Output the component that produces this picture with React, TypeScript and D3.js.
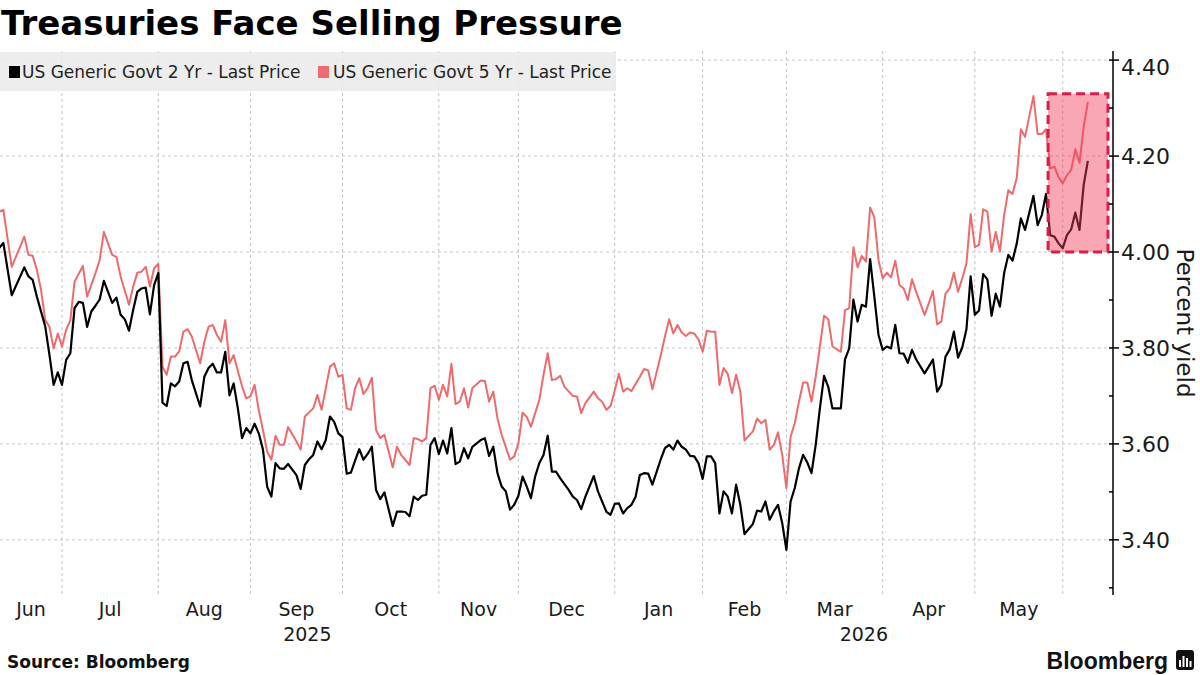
import React from 'react';
import * as d3 from 'd3';

// [trading day since 2025-06-02, yield %]
const twoYear: [number, number][] = [
  [6, 4.008], [7, 4.019], [9, 3.91], [12, 3.968], [13, 3.949], [14, 3.942], [15, 3.907], [17, 3.845],
  [18, 3.786], [19, 3.723], [20, 3.749], [21, 3.723], [22, 3.775], [23, 3.789], [24, 3.883], [25, 3.896],
  [26, 3.894], [27, 3.844], [28, 3.876], [29, 3.888], [30, 3.901], [31, 3.94], [33, 3.894], [34, 3.905],
  [35, 3.869], [36, 3.86], [37, 3.836], [38, 3.879], [39, 3.917], [40, 3.924], [41, 3.926], [42, 3.87],
  [43, 3.931], [44, 3.956], [45, 3.686], [46, 3.679], [47, 3.726], [48, 3.72], [49, 3.73], [50, 3.768],
  [51, 3.771], [52, 3.733], [54, 3.678], [55, 3.74], [56, 3.758], [57, 3.767], [58, 3.749], [59, 3.749],
  [60, 3.792], [61, 3.701], [62, 3.726], [63, 3.674], [64, 3.612], [65, 3.633], [66, 3.622], [67, 3.642],
  [68, 3.622], [69, 3.588], [70, 3.511], [71, 3.49], [72, 3.56], [73, 3.549], [74, 3.548], [75, 3.558],
  [77, 3.535], [78, 3.506], [79, 3.556], [80, 3.568], [81, 3.577], [82, 3.605], [83, 3.589], [84, 3.608],
  [85, 3.657], [86, 3.646], [87, 3.622], [88, 3.614], [89, 3.538], [90, 3.54], [91, 3.565], [92, 3.589],
  [93, 3.567], [94, 3.579], [95, 3.594], [96, 3.504], [97, 3.485], [98, 3.499], [100, 3.429], [101, 3.459],
  [102, 3.459], [103, 3.458], [104, 3.449], [105, 3.49], [106, 3.483], [107, 3.492], [108, 3.494], [109, 3.598],
  [110, 3.612], [111, 3.579], [112, 3.607], [113, 3.58], [114, 3.633], [115, 3.558], [116, 3.563], [117, 3.591],
  [118, 3.57], [119, 3.594], [121, 3.608], [122, 3.612], [123, 3.575], [124, 3.594], [125, 3.539], [126, 3.511],
  [127, 3.501], [128, 3.463], [129, 3.473], [130, 3.492], [131, 3.532], [132, 3.511], [133, 3.487], [134, 3.532],
  [135, 3.56], [136, 3.577], [137, 3.617], [138, 3.542], [139, 3.542], [140, 3.528], [142, 3.504], [143, 3.49],
  [144, 3.483], [145, 3.464], [146, 3.49], [148, 3.533], [149, 3.501], [150, 3.48], [151, 3.459], [152, 3.452],
  [153, 3.475], [154, 3.476], [155, 3.455], [156, 3.466], [157, 3.473], [158, 3.49], [159, 3.535], [160, 3.539],
  [161, 3.538], [162, 3.515], [164, 3.568], [165, 3.591], [166, 3.598], [167, 3.588], [168, 3.607], [169, 3.594],
  [170, 3.588], [171, 3.575], [172, 3.574], [173, 3.56], [174, 3.527], [175, 3.574], [176, 3.574], [177, 3.56],
  [178, 3.455], [179, 3.501], [180, 3.49], [181, 3.455], [182, 3.515], [183, 3.473], [184, 3.412], [186, 3.433],
  [187, 3.461], [188, 3.459], [189, 3.48], [190, 3.442], [191, 3.459], [192, 3.473], [193, 3.435], [194, 3.379],
  [195, 3.48], [196, 3.508], [197, 3.549], [198, 3.577], [199, 3.561], [200, 3.539], [201, 3.598], [202, 3.674],
  [203, 3.742], [204, 3.719], [205, 3.674], [207, 3.674], [208, 3.776], [209, 3.799], [210, 3.901], [211, 3.855],
  [212, 3.89], [213, 3.886], [214, 3.985], [215, 3.907], [216, 3.827], [217, 3.796], [218, 3.803], [219, 3.799],
  [220, 3.848], [221, 3.789], [222, 3.788], [223, 3.769], [224, 3.796], [225, 3.776], [227, 3.747], [228, 3.761],
  [229, 3.776], [230, 3.709], [231, 3.723], [232, 3.782], [233, 3.797], [234, 3.834], [235, 3.78], [236, 3.801],
  [237, 3.839], [238, 3.949], [239, 3.869], [240, 3.878], [241, 3.954], [242, 3.943], [243, 3.867], [244, 3.913],
  [245, 3.886], [246, 3.956], [247, 3.994], [248, 3.982], [249, 4.017], [250, 4.07], [251, 4.046], [253, 4.117],
  [254, 4.056], [255, 4.077], [256, 4.121], [257, 4.035], [258, 4.032], [259, 4.018], [260, 4.008], [261, 4.035],
  [262, 4.047], [263, 4.082], [264, 4.046], [265, 4.14], [266, 4.19],
];

const fiveYear: [number, number][] = [
  [6, 4.084], [7, 4.088], [9, 3.969], [12, 4.032], [13, 3.994], [14, 3.992], [15, 3.963], [16, 3.921],
  [17, 3.858], [18, 3.844], [19, 3.799], [20, 3.83], [21, 3.803], [22, 3.838], [23, 3.858], [24, 3.938],
  [26, 3.971], [27, 3.907], [29, 3.956], [30, 3.983], [31, 4.042], [33, 3.994], [34, 3.99], [35, 3.949],
  [37, 3.89], [38, 3.928], [39, 3.957], [40, 3.959], [41, 3.969], [42, 3.928], [43, 3.966], [44, 3.975],
  [45, 3.761], [46, 3.744], [47, 3.782], [48, 3.782], [49, 3.793], [50, 3.834], [51, 3.839], [52, 3.824],
  [54, 3.768], [55, 3.813], [56, 3.844], [57, 3.848], [58, 3.827], [59, 3.813], [60, 3.858], [61, 3.768],
  [62, 3.785], [64, 3.72], [65, 3.695], [66, 3.699], [67, 3.723], [68, 3.67], [69, 3.629], [70, 3.584],
  [71, 3.567], [72, 3.617], [73, 3.598], [74, 3.598], [75, 3.635], [77, 3.605], [78, 3.588], [79, 3.657],
  [81, 3.674], [82, 3.702], [83, 3.671], [85, 3.761], [86, 3.768], [87, 3.74], [88, 3.744], [89, 3.674],
  [90, 3.671], [91, 3.716], [92, 3.737], [93, 3.704], [94, 3.716], [95, 3.738], [96, 3.629], [97, 3.612],
  [98, 3.619], [100, 3.551], [101, 3.594], [102, 3.577], [104, 3.556], [105, 3.612], [106, 3.61], [107, 3.605],
  [108, 3.612], [109, 3.716], [110, 3.721], [111, 3.692], [112, 3.723], [113, 3.699], [114, 3.767], [115, 3.683],
  [116, 3.688], [117, 3.716], [118, 3.676], [119, 3.716], [121, 3.732], [122, 3.731], [123, 3.688], [124, 3.709],
  [125, 3.653], [126, 3.619], [128, 3.567], [129, 3.574], [130, 3.601], [131, 3.665], [132, 3.656], [133, 3.636],
  [135, 3.692], [136, 3.744], [137, 3.789], [138, 3.733], [139, 3.735], [140, 3.742], [141, 3.719], [143, 3.7],
  [144, 3.699], [145, 3.664], [146, 3.685], [148, 3.709], [149, 3.695], [150, 3.688], [151, 3.671], [152, 3.679],
  [153, 3.711], [154, 3.746], [155, 3.709], [156, 3.716], [157, 3.71], [159, 3.74], [160, 3.756], [161, 3.753],
  [162, 3.714], [164, 3.785], [165, 3.824], [166, 3.86], [167, 3.83], [168, 3.848], [169, 3.832], [170, 3.825],
  [171, 3.832], [172, 3.83], [173, 3.818], [174, 3.792], [175, 3.836], [176, 3.834], [177, 3.834], [178, 3.723],
  [179, 3.758], [180, 3.746], [181, 3.706], [182, 3.744], [183, 3.709], [184, 3.607], [186, 3.626], [187, 3.653],
  [188, 3.643], [189, 3.65], [190, 3.588], [191, 3.598], [192, 3.624], [193, 3.577], [194, 3.508], [195, 3.615],
  [196, 3.643], [197, 3.688], [198, 3.728], [199, 3.728], [200, 3.688], [201, 3.74], [202, 3.803], [203, 3.867],
  [204, 3.86], [205, 3.803], [207, 3.792], [208, 3.879], [209, 3.883], [210, 4.01], [211, 3.968], [212, 3.992],
  [213, 3.98], [214, 4.093], [215, 4.072], [216, 3.983], [217, 3.945], [218, 3.957], [219, 3.947], [220, 3.982],
  [221, 3.931], [222, 3.924], [223, 3.9], [224, 3.943], [225, 3.917], [227, 3.869], [228, 3.893], [229, 3.919],
  [230, 3.849], [231, 3.855], [232, 3.913], [233, 3.924], [234, 3.957], [235, 3.917], [236, 3.945], [237, 3.976],
  [238, 4.079], [239, 4.01], [240, 4.015], [241, 4.089], [242, 4.084], [243, 4.001], [244, 4.042], [245, 4.001],
  [246, 4.077], [247, 4.129], [248, 4.121], [249, 4.154], [250, 4.256], [251, 4.24], [253, 4.325], [254, 4.246],
  [255, 4.246], [256, 4.256], [257, 4.174], [258, 4.178], [259, 4.156], [260, 4.143], [261, 4.16], [262, 4.171],
  [263, 4.214], [264, 4.186], [265, 4.261], [266, 4.313],
];

const monthNames = ['Jun', 'Jul', 'Aug', 'Sep', 'Oct', 'Nov', 'Dec', 'Jan', 'Feb', 'Mar', 'Apr', 'May'];
// first trading day of the following month (grid lines)
const monthStarts = [21, 44, 66, 88, 111, 130, 153, 174, 194, 217, 239, 260];
const yearNames = ['2025', '2026'];
const yearBreak = 153;
const dayRange = [6.2, 272];

const yieldRange = [3.285, 4.419];
const yTicks = [3.4, 3.6, 3.8, 4.0, 4.2, 4.4];
const yMinorTicks = [3.3, 3.5, 3.7, 3.9, 4.1, 4.3];

const highlightDays = [256.5, 270.8];
const highlightYields = [4.0, 4.33];

const seriesNames = ['US Generic Govt 2 Yr - Last Price', 'US Generic Govt 5 Yr - Last Price'];
const seriesColors = ['#000000', '#EF6A6D'];

const FONT = '"DejaVu Sans", Verdana, sans-serif';

const App: React.FC = () => {
  const axisX = 1113;
  const top = 51;
  const bottom = 595;

  const x = d3.scaleLinear().domain(dayRange).range([0, axisX]);
  const y = d3.scaleLinear().domain(yieldRange).range([bottom, top]);

  const line = d3.line<[number, number]>()
    .x(d => x(d[0]))
    .y(d => y(d[1]));

  const bounds = [dayRange[0], ...monthStarts];
  const yearBounds = [dayRange[0], yearBreak, dayRange[1]];

  // keep the top label inside the axis
  const labelY = (t: number) => Math.max(y(t), top + 16) + 8;

  return (
    <div style={{ position: 'absolute', left: 0, top: 0, width: 1200, height: 675, background: '#fff' }}>
      <svg width={1200} height={675} style={{ display: 'block' }} fontFamily={FONT}>
        <defs>
          <clipPath id="plot">
            <rect x={0} y={top} width={axisX} height={bottom - top} />
          </clipPath>
        </defs>

        {/* Title */}
        <text x={1} y={35} fontSize={34} fontWeight="bold" fill="#000">Treasuries Face Selling Pressure</text>

        {/* Grid */}
        <g stroke="#c4c4c4" strokeWidth={1} strokeDasharray="3,3">
          {yTicks.map(t => (
            <line key={t} x1={0} x2={axisX} y1={y(t)} y2={y(t)} />
          ))}
          {monthStarts.map(d => (
            <line key={d} x1={x(d)} x2={x(d)} y1={top} y2={bottom} />
          ))}
        </g>

        {/* Legend */}
        <rect x={0} y={52} width={616} height={39} fill="#ebebeb" opacity={0.88} />
        <rect x={9} y={66} width={11} height={12} fill={seriesColors[0]} />
        <text x={22} y={78} fontSize={17} fill="#222">{seriesNames[0]}</text>
        <rect x={318} y={66} width={11} height={12} fill={seriesColors[1]} />
        <text x={333} y={78} fontSize={17} fill="#222">{seriesNames[1]}</text>

        {/* Lines */}
        <g clipPath="url(#plot)" fill="none" strokeLinejoin="round">
          <path d={line(fiveYear) || ''} stroke={seriesColors[1]} strokeWidth={2} />
          <path d={line(twoYear) || ''} stroke={seriesColors[0]} strokeWidth={2.2} />
        </g>

        {/* Highlight */}
        <rect
          x={x(highlightDays[0])}
          y={y(highlightYields[1])}
          width={x(highlightDays[1]) - x(highlightDays[0])}
          height={y(highlightYields[0]) - y(highlightYields[1])}
          fill="#F23C5A"
          fillOpacity={0.45}
          stroke="#DC1E46"
          strokeWidth={3}
          strokeDasharray="9,5"
        />

        {/* Right axis */}
        <line x1={axisX} x2={axisX} y1={top} y2={bottom} stroke="#000" strokeWidth={1.5} />
        {yMinorTicks.map(t => (
          <line key={t} x1={axisX - 4} x2={axisX} y1={y(t)} y2={y(t)} stroke="#000" strokeWidth={1.5} />
        ))}
        {yTicks.map(t => (
          <g key={t}>
            <line x1={axisX - 4} x2={axisX + 6} y1={y(t)} y2={y(t)} stroke="#000" strokeWidth={1.5} />
            <text x={axisX + 8} y={labelY(t)} fontSize={22} fill="#1a1a1a">{t.toFixed(2)}</text>
          </g>
        ))}
        <text transform="translate(1177,323) rotate(90)" textAnchor="middle" fontSize={23} fill="#1a1a1a">
          Percent yield
        </text>

        {/* X axis labels */}
        {monthNames.map((m, i) => (
          <text key={m} x={(x(bounds[i]) + x(bounds[i + 1])) / 2} y={616} textAnchor="middle" fontSize={19} fill="#1a1a1a">
            {m}
          </text>
        ))}
        {yearNames.map((yr, i) => (
          <text key={yr} x={(x(yearBounds[i]) + x(yearBounds[i + 1])) / 2} y={641} textAnchor="middle" fontSize={19} fill="#1a1a1a">
            {yr}
          </text>
        ))}

        {/* Footer */}
        <text x={7} y={668} fontSize={17} fontWeight="bold" fill="#111">Source: Bloomberg</text>
        <text x={1168} y={669} textAnchor="end" fontSize={23} fontWeight="bold" fontFamily='"Liberation Sans", Arial, sans-serif' fill="#111">
          Bloomberg
        </text>
        <rect x={1176} y={650} width={18} height={20} rx={3} fill="#111" />
        <g fill="#fff">
          <rect x={1179} y={660} width={2} height={7} />
          <rect x={1182.5} y={656} width={2} height={11} />
          <rect x={1186} y={658} width={2} height={9} />
          <rect x={1189.5} y={661} width={2} height={6} />
        </g>
      </svg>
    </div>
  );
};

export default App;
